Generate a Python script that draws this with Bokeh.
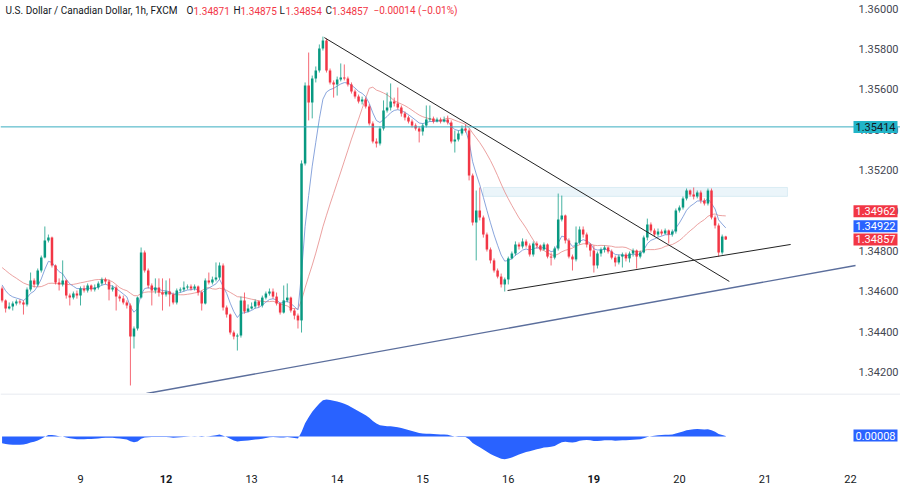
import numpy as np
from bokeh.plotting import figure
from bokeh.layouts import column
from bokeh.models import (FixedTicker, Label, Span, Range1d, NumeralTickFormatter,
                          BoxAnnotation, ColumnDataSource, LinearAxis)
from bokeh.embed import file_html
from bokeh.resources import INLINE

# ---------------- data (USD/CAD 1h, FXCM) ----------------
history_close = [1.34871, 1.34862, 1.34876, 1.34852, 1.34862, 1.34842, 1.34852, 1.34832, 1.34822, 1.34837,
                 1.34812, 1.34802, 1.34817, 1.34792, 1.34777, 1.34787, 1.34763, 1.34753, 1.34763, 1.34743,
                 1.34728, 1.34738, 1.34713, 1.34693, 1.34703, 1.34678, 1.34664, 1.34644, 1.34629, 1.34614]

first_open = 1.34614

close = [1.34555, 1.34515, 1.34525, 1.3454, 1.3455, 1.34545, 1.34535, 1.34609, 1.34654, 1.34634,
         1.34703, 1.34767, 1.34852, 1.34866, 1.34728, 1.34644, 1.34634, 1.34654, 1.34579, 1.34569,
         1.34589, 1.34579, 1.34614, 1.34604, 1.34629, 1.34609, 1.34619, 1.34639, 1.34659, 1.34649,
         1.34609, 1.34619, 1.34574, 1.34564, 1.34545, 1.3453, 1.34376, 1.34416, 1.34569, 1.34792,
         1.34703, 1.34629, 1.34604, 1.34619, 1.34594, 1.34584, 1.34599, 1.34584, 1.34545, 1.34604,
         1.34609, 1.34619, 1.34624, 1.34614, 1.34624, 1.34594, 1.3454, 1.34654, 1.34644, 1.34659,
         1.34668, 1.34728, 1.3452, 1.34485, 1.34396, 1.34376, 1.34381, 1.34555, 1.345, 1.34515,
         1.34525, 1.3455, 1.3453, 1.34569, 1.34589, 1.34599, 1.34574, 1.3454, 1.34495, 1.34555,
         1.34569, 1.34505, 1.3448, 1.34456, 1.35233, 1.35619, 1.35535, 1.35654, 1.35693, 1.35802,
         1.35842, 1.35693, 1.35634, 1.35624, 1.35649, 1.35658, 1.35654, 1.35624, 1.35589, 1.35564,
         1.3554, 1.3555, 1.35515, 1.35431, 1.35342, 1.35332, 1.35406, 1.35495, 1.3551, 1.3554,
         1.3553, 1.3551, 1.3548, 1.3546, 1.35441, 1.35421, 1.35406, 1.35391, 1.35421, 1.35451,
         1.35456, 1.35441, 1.35451, 1.35441, 1.35451, 1.35436, 1.35342, 1.35352, 1.35381, 1.35406,
         1.35396, 1.35173, 1.34941, 1.35, 1.34965, 1.34881, 1.34807, 1.34753, 1.34703, 1.34673,
         1.34634, 1.34659, 1.34763, 1.34787, 1.34832, 1.34822, 1.34847, 1.34827, 1.34782, 1.34837,
         1.34827, 1.34807, 1.34832, 1.34772, 1.34767, 1.34812, 1.34956, 1.34975, 1.34852, 1.34772,
         1.34758, 1.34842, 1.34906, 1.34881, 1.34832, 1.34802, 1.34728, 1.34787, 1.34807, 1.34817,
         1.34797, 1.34767, 1.34743, 1.34772, 1.34782, 1.34763, 1.34787, 1.34802, 1.34772, 1.34792,
         1.34866, 1.34931, 1.34901, 1.34881, 1.34896, 1.34886, 1.34901, 1.34881, 1.34896, 1.35,
         1.35015, 1.3506, 1.35099, 1.35079, 1.35069, 1.35089, 1.3505, 1.35035, 1.35099, 1.34965,
         1.34926, 1.34792, 1.34871, 1.34857]

high = [1.34624, 1.3456, 1.34545, 1.3455, 1.3456, 1.3456, 1.34555, 1.34619, 1.34693, 1.34664,
        1.34713, 1.34777, 1.34921, 1.34881, 1.34871, 1.34733, 1.34664, 1.34753, 1.34659, 1.34589,
        1.34599, 1.34604, 1.34624, 1.34629, 1.34639, 1.34634, 1.34634, 1.34649, 1.34668, 1.34668,
        1.34659, 1.34629, 1.34629, 1.34584, 1.34579, 1.34555, 1.3454, 1.34426, 1.34574, 1.34817,
        1.34802, 1.34713, 1.34639, 1.34664, 1.34664, 1.34664, 1.34654, 1.34664, 1.34594, 1.34614,
        1.34619, 1.34649, 1.34634, 1.34634, 1.34634, 1.34629, 1.34604, 1.34664, 1.34693, 1.34673,
        1.34743, 1.34743, 1.34738, 1.3453, 1.3449, 1.34406, 1.34391, 1.34574, 1.34594, 1.34535,
        1.34545, 1.3456, 1.34555, 1.34579, 1.34599, 1.34614, 1.34614, 1.34594, 1.34545, 1.34629,
        1.34639, 1.34574, 1.34515, 1.3449, 1.35248, 1.35634, 1.35782, 1.35668, 1.35713, 1.35822,
        1.35861, 1.35852, 1.35703, 1.35644, 1.35663, 1.35728, 1.35723, 1.35663, 1.35634, 1.35599,
        1.35574, 1.35564, 1.35559, 1.35525, 1.35441, 1.35357, 1.35416, 1.35545, 1.35584, 1.35629,
        1.35559, 1.35609, 1.3552, 1.3549, 1.3547, 1.35451, 1.35431, 1.35416, 1.35431, 1.3552,
        1.3552, 1.35465, 1.3546, 1.3546, 1.35465, 1.3547, 1.35446, 1.35396, 1.35396, 1.35421,
        1.35426, 1.35406, 1.35183, 1.35099, 1.35114, 1.34975, 1.34891, 1.34817, 1.34763, 1.34713,
        1.34688, 1.34668, 1.34772, 1.34797, 1.34847, 1.34842, 1.34862, 1.34857, 1.34837, 1.34847,
        1.34847, 1.34832, 1.34842, 1.34837, 1.34792, 1.34822, 1.35084, 1.35074, 1.3498, 1.34862,
        1.34782, 1.34921, 1.34921, 1.34921, 1.34891, 1.34837, 1.34827, 1.34797, 1.34817, 1.34827,
        1.34822, 1.34807, 1.34777, 1.34782, 1.34792, 1.34792, 1.34797, 1.34812, 1.34807, 1.34802,
        1.34876, 1.3496, 1.34941, 1.34911, 1.34911, 1.34906, 1.34911, 1.34906, 1.34906, 1.3501,
        1.35025, 1.35069, 1.35109, 1.35104, 1.35114, 1.35099, 1.35099, 1.3506, 1.35109, 1.35109,
        1.34975, 1.34936, 1.34881, 1.34875]

low = [1.34545, 1.34495, 1.3451, 1.34505, 1.3453, 1.34535, 1.34485, 1.34525, 1.34599, 1.34619,
       1.34624, 1.34693, 1.34763, 1.34842, 1.34718, 1.34634, 1.34604, 1.34624, 1.34564, 1.3453,
       1.3456, 1.34564, 1.3453, 1.34594, 1.34594, 1.34599, 1.34599, 1.34609, 1.34629, 1.34634,
       1.34555, 1.34599, 1.34505, 1.3455, 1.34535, 1.34515, 1.34134, 1.34317, 1.34406, 1.34564,
       1.34693, 1.34614, 1.3453, 1.34589, 1.34574, 1.34505, 1.34574, 1.34525, 1.34535, 1.34535,
       1.34594, 1.34599, 1.34609, 1.34604, 1.34604, 1.34579, 1.34505, 1.34535, 1.34634, 1.34634,
       1.34649, 1.34659, 1.34505, 1.3447, 1.34386, 1.34362, 1.34307, 1.34371, 1.3449, 1.34495,
       1.3451, 1.34515, 1.3452, 1.3452, 1.3456, 1.34579, 1.34564, 1.3453, 1.34485, 1.3449,
       1.34545, 1.34495, 1.34461, 1.34416, 1.34396, 1.35223, 1.35446, 1.35456, 1.35634, 1.35683,
       1.35792, 1.35683, 1.35624, 1.35559, 1.35569, 1.35639, 1.35644, 1.35614, 1.35579, 1.35554,
       1.3553, 1.35525, 1.35505, 1.35421, 1.35332, 1.35312, 1.35322, 1.35396, 1.35485, 1.35495,
       1.35515, 1.355, 1.35465, 1.35446, 1.35431, 1.35411, 1.35396, 1.35337, 1.35371, 1.35411,
       1.35441, 1.35431, 1.35436, 1.35431, 1.35436, 1.35426, 1.35332, 1.35287, 1.35342, 1.35371,
       1.35386, 1.35149, 1.34926, 1.34753, 1.34951, 1.34866, 1.34797, 1.34738, 1.34693, 1.34664,
       1.34619, 1.34599, 1.34634, 1.34758, 1.34777, 1.34807, 1.34812, 1.34817, 1.34772, 1.34772,
       1.34812, 1.34797, 1.34802, 1.34763, 1.34728, 1.34758, 1.34802, 1.34946, 1.34837, 1.34763,
       1.34703, 1.34748, 1.34832, 1.34866, 1.34817, 1.34772, 1.34693, 1.34713, 1.34772, 1.34792,
       1.34787, 1.34758, 1.34723, 1.34733, 1.34718, 1.34748, 1.34743, 1.34772, 1.34713, 1.34763,
       1.34787, 1.34852, 1.34891, 1.34871, 1.34871, 1.34876, 1.34881, 1.34837, 1.34871, 1.34886,
       1.3499, 1.35005, 1.3505, 1.35069, 1.35055, 1.3506, 1.35035, 1.35025, 1.35025, 1.34956,
       1.34911, 1.34772, 1.34782, 1.34854]

day_index = [22, 46, 70, 94, 118, 142, 166, 190, 214, 238]
day_label = ["9", "12", "13", "14", "15", "16", "19", "20", "21", "22"]
day_bold = [False, True, False, False, False, False, True, False, False, False]

price_ticks = [1.342, 1.344, 1.346, 1.348, 1.350, 1.352, 1.354, 1.356, 1.358, 1.360]

level_price = 1.35414
zone_x = [135.0, 220.3]
zone_price = [1.3507, 1.35114]
down_line_x = [90.4, 204.0]
down_line_price = [1.35856, 1.34649]
up_line_x = [141.8, 221.2]
up_line_price = [1.34604, 1.34832]
long_line_x = [40.5, 239.4]
long_line_price = [1.34094, 1.34728]

header_name = "U.S. Dollar / Canadian Dollar, 1h, FXCM"
header_keys = ["O", "H", "L", "C"]
header_vals = ["1.34871", "1.34875", "1.34854", "1.34857"]
header_change = "\u22120.00014 (\u22120.01%)"

tag_slow_ma = 1.34962
tag_fast_ma = 1.34922
tag_last = 1.34857
tag_osc = 0.00008

# ---------------- derived series ----------------
n = len(close)
idx = np.arange(n)
c = np.array(close)
o = np.array([first_open] + close[:-1])
h = np.maximum.reduce([np.array(high), o, c])
l = np.minimum.reduce([np.array(low), o, c])

full = np.array(history_close + close)
nh = len(history_close)

def ema(a, span):
    al = 2.0 / (span + 1)
    out = np.empty_like(a)
    out[0] = a[0]
    for k in range(1, len(a)):
        out[k] = al * a[k] + (1 - al) * out[k - 1]
    return out

def sma(a, w):
    out = np.full_like(a, np.nan)
    cs = np.cumsum(np.insert(a, 0, 0.0))
    out[w - 1:] = (cs[w:] - cs[:-w]) / w
    return out

fast_ma = ema(full, 7)[nh:]
slow_ma = sma(full, 20)[nh:]
macd = (ema(full, 12) - ema(full, 26))[nh:]

UP, DOWN = "#089981", "#f23645"
col = [UP if cc >= oo else DOWN for oo, cc in zip(o, c)]
eps = 0.000012
btop = np.maximum(o, c)
bbot = np.minimum(o, c)
btop = np.where(btop - bbot < eps, bbot + eps, btop)

src = ColumnDataSource(dict(x=idx, o=o, c=c, h=h, l=l, top=btop, bot=bbot, col=col))

# ---------------- layout constants ----------------
PXU = 3.565           # px per bar
FW = 900
X0 = 22 - 80 / PXU    # day "9" tick sits at px 80
X1 = X0 + FW / PXU
PY = 0.0000495        # price per px
FH = 393
YT = 1.36 + 8 * PY
YB = YT - FH * PY
FONT = "Roboto"
TXT = "#131722"

def px_x(px):
    return X0 + px / PXU

xr = Range1d(X0, X1)

p = figure(frame_width=FW, frame_height=FH, x_range=xr, y_range=Range1d(YB, YT),
           x_axis_location=None, y_axis_location=None, toolbar_location=None,
           output_backend="svg", min_border=0)
p.grid.visible = False
p.outline_line_color = None
p.background_fill_color = "white"
p.border_fill_color = "white"

ya = LinearAxis(fixed_location=px_x(849))
ya.ticker = FixedTicker(ticks=price_ticks)
ya.formatter = NumeralTickFormatter(format="0.00000")
ya.axis_line_color = None
ya.major_tick_line_color = None
ya.minor_tick_line_color = None
ya.major_tick_out = 0
ya.major_tick_in = 0
ya.major_label_standoff = 9
ya.major_label_text_font_size = "11px"
ya.major_label_text_font = FONT
ya.major_label_text_color = "#434651"
p.add_layout(ya, "right")

# zone rectangle
p.add_layout(BoxAnnotation(left=zone_x[0], right=zone_x[1], bottom=zone_price[0], top=zone_price[1],
                           fill_color="#e3f1f8", fill_alpha=0.7, line_color="#9fd0e0",
                           line_width=1, level="underlay"))
# horizontal level
p.add_layout(Span(location=level_price, dimension="width", line_color="#3aaec0", line_width=1))

# long support line
p.line(long_line_x, long_line_price, line_color="#5b6e9c", line_width=1.4)

# moving averages
p.line(idx, slow_ma, line_color="#e8908f", line_width=1, line_alpha=0.85)
p.line(idx, fast_ma, line_color="#7c9bd8", line_width=1, line_alpha=0.9)

# candles
p.segment(x0="x", y0="h", x1="x", y1="l", color="col", line_width=1, line_alpha=0.75, source=src)
p.vbar(x="x", width=0.7, top="top", bottom="bot", fill_color="col", line_color=None, source=src)

# trend lines
p.line(down_line_x, down_line_price, line_color="#222222", line_width=1)
p.line(up_line_x, up_line_price, line_color="#222222", line_width=1)

# header legend
hy = YT - 10 * PY
HF = "10px"
p.add_layout(Label(x=px_x(5), y=hy, text=header_name, text_font=FONT, text_font_size=HF,
                   text_color=TXT, text_baseline="middle", text_align="left"))
key_px = [186, 233, 279, 325]
val_px = [193, 240, 285, 331.5]
for k, v, kp, vp in zip(header_keys, header_vals, key_px, val_px):
    p.add_layout(Label(x=px_x(kp), y=hy, text=k, text_font=FONT, text_font_size=HF,
                       text_color=TXT, text_baseline="middle", text_align="left"))
    p.add_layout(Label(x=px_x(vp), y=hy, text=v, text_font=FONT, text_font_size=HF,
                       text_color=DOWN, text_baseline="middle", text_align="left"))
p.add_layout(Label(x=px_x(373), y=hy, text=header_change, text_font=FONT, text_font_size=HF,
                   text_color=DOWN, text_baseline="middle", text_align="left"))

# price tags on the right scale
tag_x = px_x(853)
def tag(fig, y, text, bg, fg="white"):
    fig.add_layout(Label(x=tag_x, y=y, text=text, text_font=FONT, text_font_size="11px",
                         text_color=fg, text_baseline="middle", text_align="left",
                         background_fill_color=bg, background_fill_alpha=1.0, padding=2))

tag(p, level_price, f"{level_price:.5f}", "#22b5c8", TXT)
tag(p, tag_slow_ma + 7 * PY, f"{tag_slow_ma:.5f}", DOWN)
tag(p, tag_fast_ma, f"{tag_fast_ma:.5f}", "#2962ff")
tag(p, tag_last, f"{tag_last:.5f}", DOWN)

# ---------------- oscillator pane ----------------
FH2 = 96
ZERO_PX = 43
peak = float(np.nanmax(macd))
scale = 37.0 / peak
Y2T = ZERO_PX / scale
Y2B = -(FH2 - ZERO_PX) / scale
PY2 = (Y2T - Y2B) / FH2
AXIS_Y = Y2T - 76 * PY2

q = figure(frame_width=FW, frame_height=FH2, x_range=xr, y_range=Range1d(Y2B, Y2T),
           x_axis_location=None, y_axis_location=None, toolbar_location=None,
           output_backend="svg", min_border=0)
q.grid.visible = False
q.outline_line_color = None
q.background_fill_color = "white"
q.border_fill_color = "white"
q.add_layout(Span(location=Y2T - 0.5 * PY2, dimension="width", line_color="#e0e3eb", line_width=1))
q.varea(x=idx, y1=np.zeros(n), y2=macd, fill_color="#2962ff", fill_alpha=1.0)

def day_axis(ticks, labels, bold):
    ax = LinearAxis(fixed_location=AXIS_Y)
    ax.ticker = FixedTicker(ticks=ticks)
    ax.major_label_overrides = {t: s for t, s in zip(ticks, labels)}
    ax.axis_line_color = None
    ax.major_tick_line_color = None
    ax.minor_tick_line_color = None
    ax.major_tick_out = 0
    ax.major_tick_in = 0
    ax.major_label_standoff = 5
    ax.major_label_text_font_size = "11px"
    ax.major_label_text_font = FONT
    ax.major_label_text_color = TXT
    ax.major_label_text_font_style = "bold" if bold else "normal"
    q.add_layout(ax, "below")

day_axis([d for d, b in zip(day_index, day_bold) if not b],
         [t for t, b in zip(day_label, day_bold) if not b], False)
day_axis([d for d, b in zip(day_index, day_bold) if b],
         [t for t, b in zip(day_label, day_bold) if b], True)

q.add_layout(Label(x=tag_x, y=tag_osc, text=f"{tag_osc:.5f}", text_font=FONT, text_font_size="11px",
                   text_color="white", text_baseline="middle", text_align="left",
                   background_fill_color="#2962ff", background_fill_alpha=1.0, padding=2))

layout = column(p, q, spacing=0)
open("out.html", "w").write(file_html(layout, INLINE))
